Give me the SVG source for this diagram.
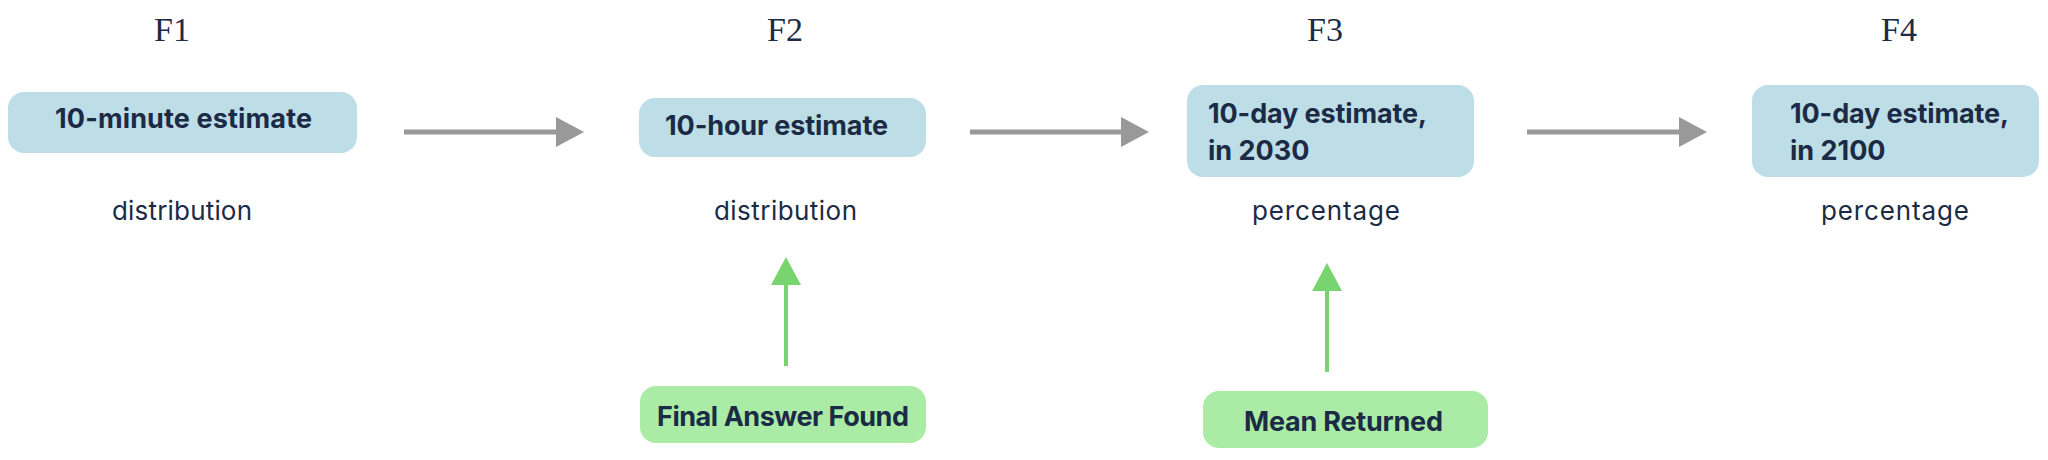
<svg xmlns="http://www.w3.org/2000/svg" width="2048" height="460" viewBox="0 0 2048 460">
<style>
.bg{fill:#ffffff}
.box{fill:#BDDDE7}
.gbox{fill:#AAEBA5}
.flabel{font-family:"Liberation Serif",serif;font-size:34px;fill:#1C2B45;text-anchor:middle}
.bt{font-family:Inter,"Open Sans",sans-serif;font-weight:700;font-size:27px;fill:#1C2B45}
.sub{font-family:Inter,"Open Sans",sans-serif;font-weight:400;font-size:26px;fill:#1C2B45}
.garrow{stroke:#999999;stroke-width:5;fill:none}
.grarrow{stroke:#78D46F;stroke-width:4;fill:none}
</style>
<defs>
<marker id="headGray" markerUnits="userSpaceOnUse" markerWidth="28" markerHeight="30" refX="0" refY="15" orient="auto">
<path d="M0,0 L28,15 L0,30 z" fill="#999999"/>
</marker>
<marker id="headGreen" markerUnits="userSpaceOnUse" markerWidth="28" markerHeight="30" refX="0" refY="15" orient="auto">
<path d="M0,0 L28,15 L0,30 z" fill="#78D46F"/>
</marker>
</defs>
<rect class="bg" x="0" y="0" width="2048" height="460"/>

<g id="labels">
<text class="flabel" x="172" y="41">F1</text>
<text class="flabel" x="785" y="41">F2</text>
<text class="flabel" x="1325" y="41">F3</text>
<text class="flabel" x="1899" y="41">F4</text>
</g>

<g id="connectors">
<line class="garrow" x1="404" y1="132" x2="556" y2="132" marker-end="url(#headGray)"/>
<line class="garrow" x1="970" y1="132" x2="1121" y2="132" marker-end="url(#headGray)"/>
<line class="garrow" x1="1527" y1="132" x2="1679" y2="132" marker-end="url(#headGray)"/>
<line class="grarrow" x1="786" y1="366" x2="786" y2="285" marker-end="url(#headGreen)"/>
<line class="grarrow" x1="1327" y1="372" x2="1327" y2="291" marker-end="url(#headGreen)"/>
</g>

<g id="node-f1">
<rect class="box" x="8" y="92" width="349" height="61" rx="16"/>
<text class="bt" x="55" y="128" textLength="257" lengthAdjust="spacing">10-minute estimate</text>
<text class="sub" x="112" y="220" textLength="140" lengthAdjust="spacing">distribution</text>
</g>

<g id="node-f2">
<rect class="box" x="639" y="98" width="287" height="59" rx="16"/>
<text class="bt" x="665" y="135" textLength="223" lengthAdjust="spacing">10-hour estimate</text>
<text class="sub" x="714" y="220" textLength="143" lengthAdjust="spacing">distribution</text>
</g>

<g id="node-f3">
<rect class="box" x="1187" y="85" width="287" height="92" rx="16"/>
<text class="bt" x="1208" y="123" textLength="219" lengthAdjust="spacing">10-day estimate,</text>
<text class="bt" x="1208" y="160">in 2030</text>
<text class="sub" x="1252" y="220" textLength="148" lengthAdjust="spacing">percentage</text>
</g>

<g id="node-f4">
<rect class="box" x="1752" y="85" width="287" height="92" rx="16"/>
<text class="bt" x="1790" y="123" textLength="219" lengthAdjust="spacing">10-day estimate,</text>
<text class="bt" x="1790" y="160">in 2100</text>
<text class="sub" x="1821" y="220" textLength="148" lengthAdjust="spacing">percentage</text>
</g>

<g id="node-final-answer">
<rect class="gbox" x="640" y="386" width="286" height="57" rx="16"/>
<text class="bt" x="657" y="426" textLength="252" lengthAdjust="spacing">Final Answer Found</text>
</g>

<g id="node-mean-returned">
<rect class="gbox" x="1203" y="391" width="285" height="57" rx="16"/>
<text class="bt" x="1244" y="431" textLength="199" lengthAdjust="spacing">Mean Returned</text>
</g>
</svg>
